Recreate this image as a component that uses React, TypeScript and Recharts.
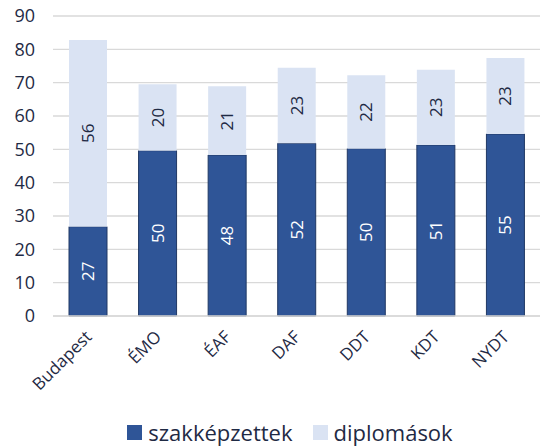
import { BarChart, Bar, XAxis, YAxis, CartesianGrid, Legend, LabelList } from 'recharts';

const regions = ['Budapest', 'ÉMO', 'ÉAF', 'DAF', 'DDT', 'KDT', 'NYDT'];
const szakkepzettek = [26.8, 49.6, 48.3, 51.8, 50.2, 51.3, 54.6];
const diplomasok = [56.0, 19.9, 20.6, 22.7, 22.0, 22.6, 22.8];
const yTicks = [0, 10, 20, 30, 40, 50, 60, 70, 80, 90];
const seriesNames = ['szakképzettek', 'diplomások'];
const seriesColors = ['#2f5597', '#dae3f3'];

const FONT = '"Open Sans", "Noto Sans", sans-serif';
const TEXT = '#1f2a44';

const data = regions.map((name, i) => ({
    name,
    szakkepzettek: szakkepzettek[i],
    diplomasok: diplomasok[i],
}));

const RegionTick = ({ x, y, payload }: any) => (
    <g transform={`translate(${x + 5},${y + 14})`}>
        <text textAnchor="end" transform="rotate(-45)" fontSize={17} fill={TEXT} fontFamily={FONT}>
            {payload.value}
        </text>
    </g>
);

const LegendBox = () => (
    <div style={{ display: 'flex', justifyContent: 'center', fontFamily: FONT, fontSize: 22, color: TEXT, paddingLeft: 40 }}>
        {seriesNames.map((n, i) => (
            <div key={n} style={{ display: 'flex', alignItems: 'center', margin: '0 10px' }}>
                <span style={{ width: 15, height: 15, background: seriesColors[i], marginRight: 6, display: 'inline-block' }} />
                <span>{n}</span>
            </div>
        ))}
    </div>
);

export default function App() {
    return (
        <div style={{ position: 'absolute', left: 0, top: 0, background: '#fff' }}>
            <BarChart width={540} height={447} data={data}
                margin={{ top: 16, right: 0, bottom: 0, left: 0 }}
                barCategoryGap="23%">
                <CartesianGrid vertical={false} stroke="#d9d9d9" strokeWidth={1.3} />
                <XAxis dataKey="name" interval={0} height={101} tickLine={false}
                    axisLine={{ stroke: '#d9d9d9', strokeWidth: 1.3 }} tick={<RegionTick />} />
                <YAxis domain={[0, 90]} ticks={yTicks} width={53} axisLine={false} tickLine={false}
                    tick={{ fontSize: 18, fill: TEXT, fontFamily: FONT }} tickMargin={12} />
                <Legend verticalAlign="bottom" content={<LegendBox />} />
                <Bar dataKey="szakkepzettek" name="szakképzettek" stackId="a" fill={seriesColors[0]}
                    stroke="#203864" strokeWidth={1} isAnimationActive={false}>
                    <LabelList dataKey="szakkepzettek" position="center" angle={-90}
                        formatter={(v: any) => Math.round(v)}
                        style={{ fill: '#ffffff', fontSize: 17, fontFamily: FONT }} />
                </Bar>
                <Bar dataKey="diplomasok" name="diplomások" stackId="a" fill={seriesColors[1]}
                    isAnimationActive={false}>
                    <LabelList dataKey="diplomasok" position="center" angle={-90}
                        formatter={(v: any) => Math.round(v)}
                        style={{ fill: TEXT, fontSize: 17, fontFamily: FONT }} />
                </Bar>
            </BarChart>
        </div>
    );
}
